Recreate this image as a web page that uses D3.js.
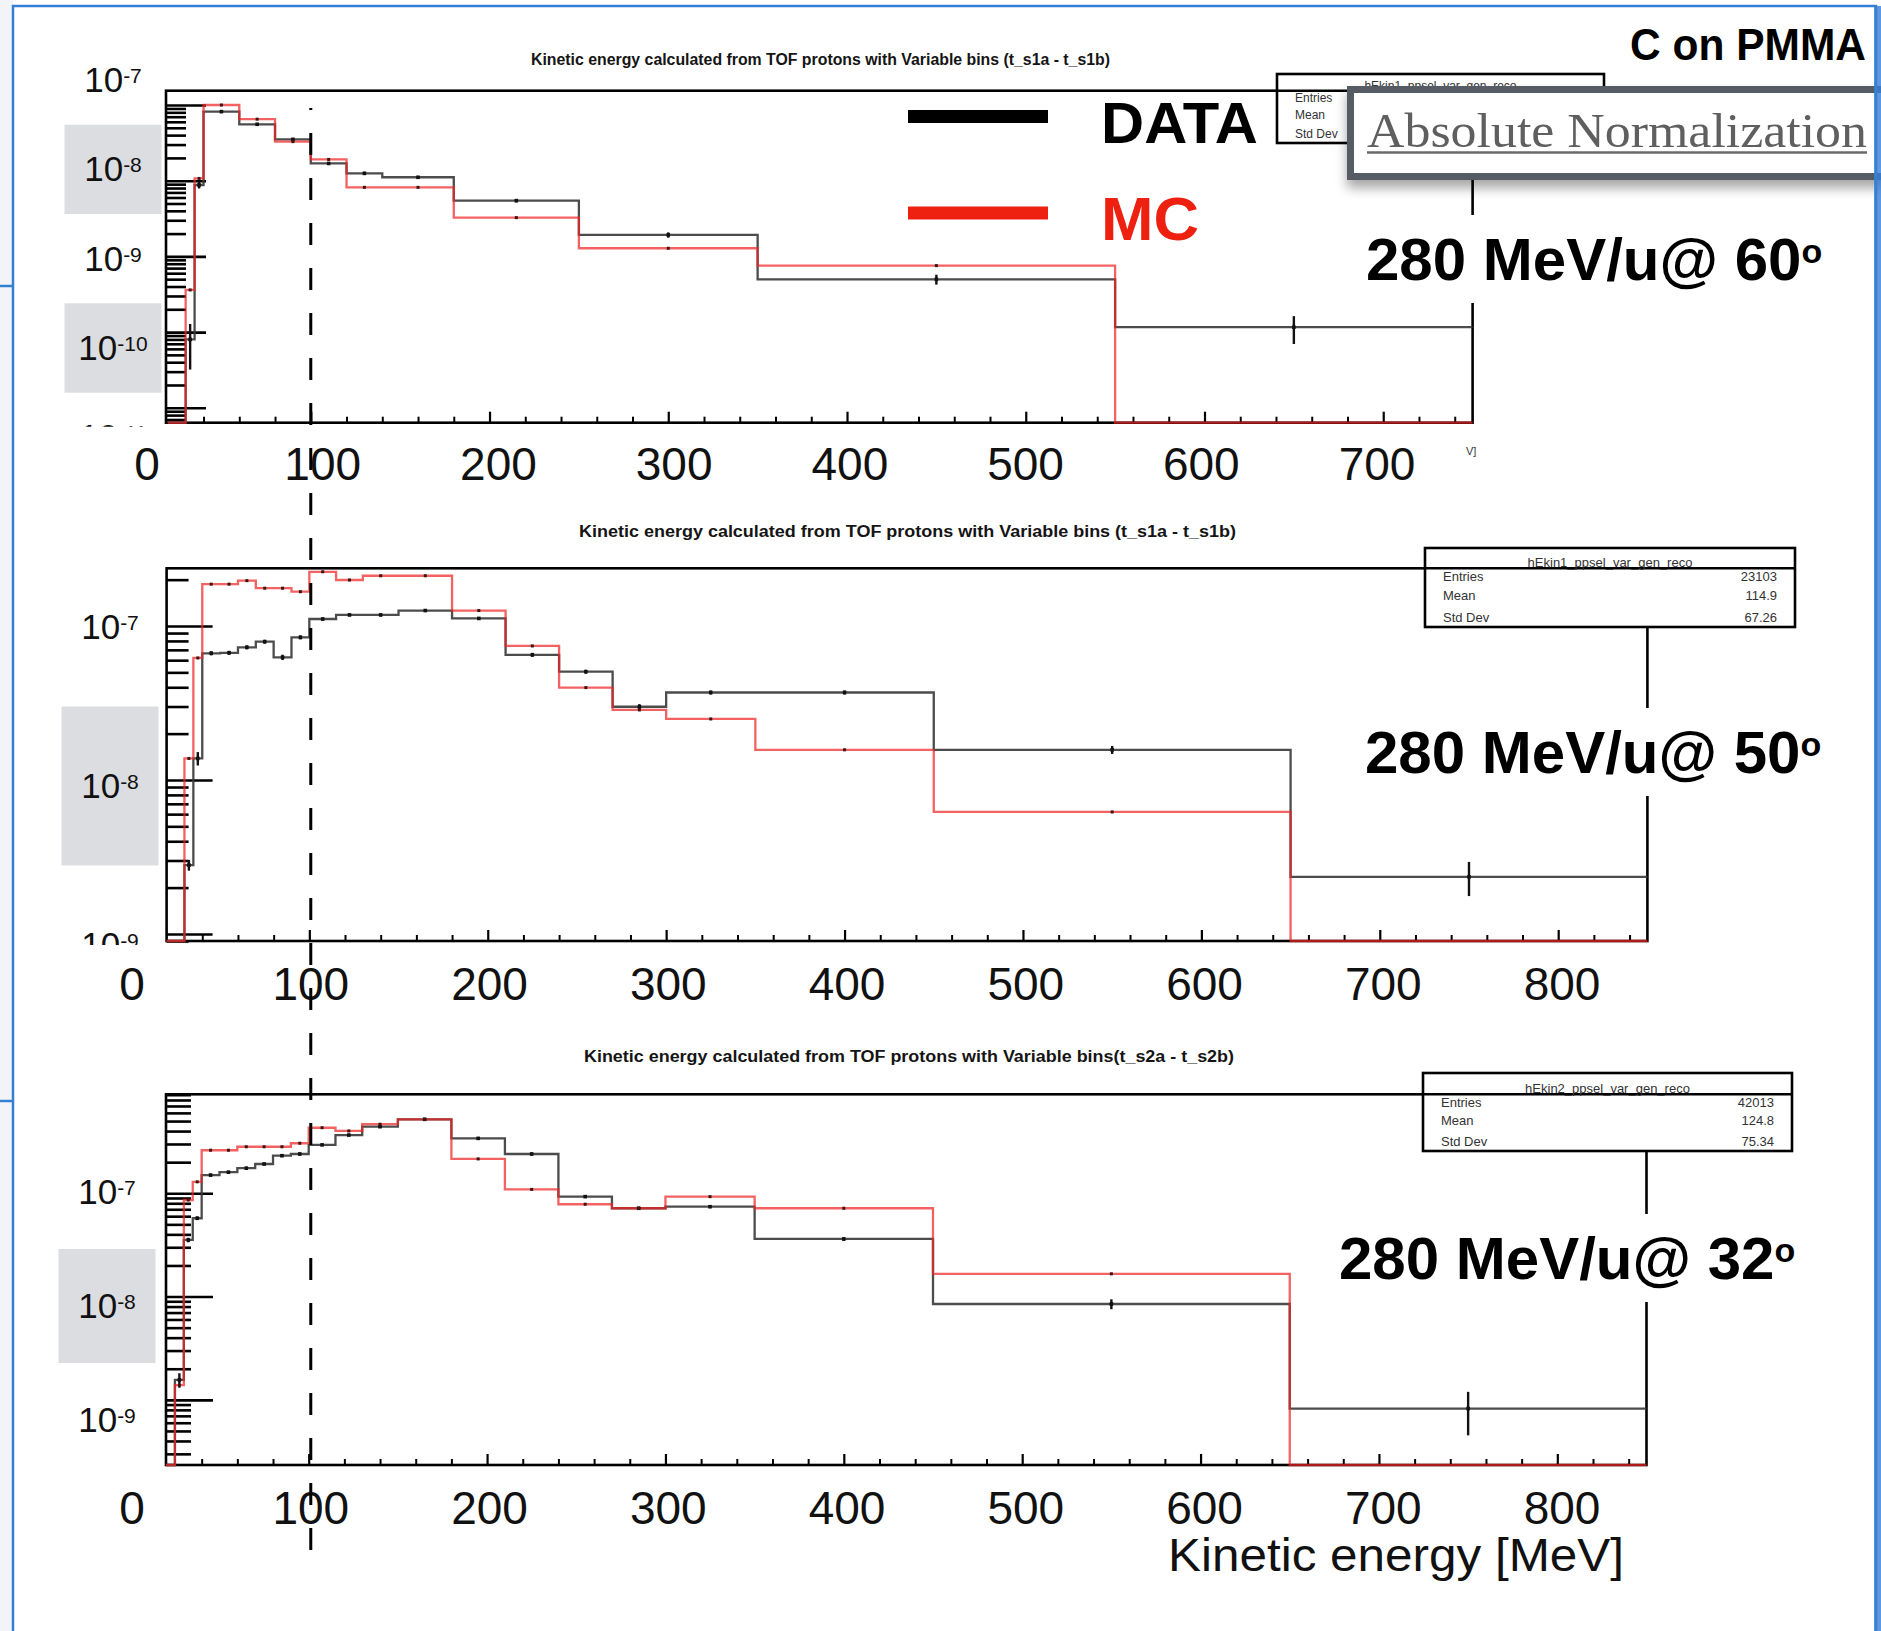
<!DOCTYPE html>
<html>
<head>
<meta charset="utf-8">
<script src="https://cdn.jsdelivr.net/npm/d3@7"></script>
<style>
  body { margin: 0; background: #fff; overflow: hidden; }
  svg { display: block; }
  text { font-family: "Liberation Sans", Arial, sans-serif; }
</style>
</head>
<body>
<div id="chart"></div>
<script>
// ---- data (per bin, normalised yield) ----
var edgesA = [20,25,30,35,40,60,80,100,120,140,180,250,350,550,750];
var edgesB = [20,25,30,35,40,50,60,70,80,90,100,115,130,150,180,210,240,270,300,350,450,650,850];

// 280 MeV/u @ 60 deg
var data60 = [0,0,8e-11,8.77e-9,8.17e-8,5.56e-8,3.52e-8,1.69e-8,1.25e-8,1.11e-8,5.45e-9,1.92e-9,4.98e-10,1.16e-10];
var err60  = [0,0,0.6,0.1,0.02,0.03,0.04,0.04,0.05,0.04,0.05,0.08,0.15,0.4];
var mc60   = [0,0,3.6e-10,1.07e-8,1.0e-7,6.5e-8,3.28e-8,1.91e-8,8.17e-9,8.17e-9,3.25e-9,1.28e-9,7.55e-10,0];

// 280 MeV/u @ 50 deg
var data50 = [0,0,2.8e-9,1.38e-8,6.65e-8,6.7e-8,7.27e-8,7.91e-8,6.26e-8,8.44e-8,1.11e-7,1.18e-7,1.18e-7,1.26e-7,1.12e-7,6.5e-8,5.05e-8,2.99e-8,3.7e-8,3.7e-8,1.57e-8,2.35e-9];
var err50  = [0,0,0.08,0.1,0.03,0.03,0.03,0.03,0.04,0.03,0.02,0.02,0.02,0.02,0.02,0.03,0.03,0.04,0.03,0.03,0.06,0.25];
var mc50   = [0,0,1.38e-8,6.2e-8,1.87e-7,1.87e-7,1.97e-7,1.76e-7,1.76e-7,1.67e-7,2.25e-7,1.99e-7,2.12e-7,2.12e-7,1.26e-7,7.42e-8,3.98e-8,2.85e-8,2.49e-8,1.57e-8,6.2e-9,0];

// 280 MeV/u @ 32 deg
var data32 = [0,1.56e-9,3.53e-8,5.73e-8,1.5e-7,1.6e-7,1.75e-7,1.92e-7,2.31e-7,2.4e-7,2.94e-7,3.66e-7,4.41e-7,5.2e-7,3.4e-7,2.4e-7,9.27e-8,7.16e-8,7.41e-8,3.61e-8,8.47e-9,8.24e-10];
var err32  = [0,0.16,0.05,0.04,0.03,0.03,0.03,0.03,0.03,0.03,0.02,0.02,0.02,0.02,0.02,0.03,0.03,0.03,0.03,0.04,0.11,0.45];
var mc32   = [0,1.39e-9,8.61e-8,1.29e-7,2.61e-7,2.61e-7,2.82e-7,2.82e-7,2.82e-7,3.05e-7,4.31e-7,4.01e-7,4.66e-7,5.2e-7,2.15e-7,1.09e-7,7.83e-8,7.16e-8,9.27e-8,7.16e-8,1.66e-8,0];

// tick labels
var xLabels60 = [0,100,200,300,400,500,600,700];
var xLabels = [0,100,200,300,400,500,600,700,800];
var yExps60 = [-7,-8,-9,-10,-11];
var yExps50 = [-7,-8,-9];
var yExps32 = [-7,-8,-9];

// texts
var titles = [
  "Kinetic energy calculated from TOF protons with Variable bins (t_s1a - t_s1b)",
  "Kinetic energy calculated from TOF protons with Variable bins (t_s1a - t_s1b)",
  "Kinetic energy calculated from TOF protons with Variable bins(t_s2a - t_s2b)"
];
var angles = ["60", "50", "32"];
var statNames = ["hEkin1_ppsel_var_gen_reco", "hEkin1_ppsel_var_gen_reco", "hEkin2_ppsel_var_gen_reco"];
var statLabels = ["Entries", "Mean", "Std Dev"];
var statValues = [null, ["23103", "114.9", "67.26"], ["42013", "124.8", "75.34"]];
var legendNames = ["DATA", "MC"];
var legendColors = ["#000000", "#ee2010"];

// ---- layout ----
var W = 1881, H = 1631;
var panels = [
  { edges: edgesA, data: data60, err: err60, mc: mc60,
    xDom: [19, 750], xr: [166, 1472.6], yDom: [6.35e-12, 1.545e-7], yr: [422.7, 90.7],
    titleX: 531, titleW: 579, titleY: 65,
    xLabs: xLabels60, labX: [[0, 147], [700, 1377]], labBase: 480,
    yExps: yExps60, labY: [[1e-7, 92], [1e-10, 360]], labCx: 113,
    tick: [40, 20],
    stats: { x0: 1277, x1: 1604, y0: 74, y1: 143, fs: 12 },
    eX: 1366, eY: 280 },
  { edges: edgesB, data: data50, err: err50, mc: mc50,
    xDom: [20, 850], xr: [166.6, 1647.4], yDom: [9.0e-10, 2.37e-7], yr: [941, 568.3],
    titleX: 579, titleW: 657, titleY: 537,
    xLabs: xLabels, labX: [[0, 132], [800, 1562]], labBase: 1000,
    yExps: yExps50, labY: [[1e-7, 639], [1e-8, 798]], labCx: 110,
    tick: [46, 22],
    stats: { x0: 1425, x1: 1795, y0: 548, y1: 627, fs: 13 },
    eX: 1365, eY: 773 },
  { edges: edgesB, data: data32, err: err32, mc: mc32,
    xDom: [20, 850], xr: [166, 1646.5], yDom: [2.34e-10, 9.08e-7], yr: [1465, 1094.3],
    titleX: 584, titleW: 650, titleY: 1062,
    xLabs: xLabels, labX: [[0, 132], [800, 1562]], labBase: 1524,
    yExps: yExps32, labY: [[1e-7, 1204], [1e-9, 1432]], labCx: 107,
    tick: [47, 25],
    stats: { x0: 1423, x1: 1792, y0: 1073, y1: 1151, fs: 13 },
    eX: 1339, eY: 1279 }
];

var svg = d3.select("#chart").append("svg").attr("width", W).attr("height", H);
var defs = svg.append("defs");
defs.append("filter").attr("id", "shadow")
    .attr("x", "-10%").attr("y", "-30%").attr("width", "130%").attr("height", "180%")
  .append("feDropShadow")
    .attr("dx", 0).attr("dy", 8).attr("stdDeviation", 6)
    .attr("flood-color", "#000").attr("flood-opacity", 0.35);

svg.append("rect").attr("width", W).attr("height", H).attr("fill", "#fff");
svg.append("rect").attr("x", 0).attr("y", 0).attr("width", 13).attr("height", H).attr("fill", "#f2f4f7");

var xScale100 = null;

panels.forEach(function(p, pi) {
  var g = svg.append("g");
  var x = d3.scaleLinear().domain(p.xDom).range(p.xr);
  var y = d3.scaleLog().domain(p.yDom).range(p.yr).clamp(true);
  var yv = function(v) { return v > 0 ? y(v) : p.yr[0]; };
  if (pi === 0) xScale100 = x(100);

  // overlay label scales (the slide's pasted labels do not sit exactly on the ROOT ticks)
  var lx = d3.scaleLinear().domain([p.labX[0][0], p.labX[1][0]]).range([p.labX[0][1], p.labX[1][1]]);
  var ly = d3.scaleLog().domain([p.labY[0][0], p.labY[1][0]]).range([p.labY[0][1], p.labY[1][1]]);

  // title
  g.append("text")
    .attr("x", p.titleX).attr("y", p.titleY)
    .attr("textLength", p.titleW).attr("lengthAdjust", "spacingAndGlyphs")
    .style("font-size", "16px").style("font-weight", "bold").attr("fill", "#151515")
    .text(titles[pi]);

  // y labels (clipped under the axis)
  defs.append("clipPath").attr("id", "clipL" + pi)
    .append("rect").attr("x", 0).attr("y", 0).attr("width", 220).attr("height", p.yr[0] + 4);
  var lab = g.append("g").attr("clip-path", "url(#clipL" + pi + ")");
  p.yExps.filter(function(e) { return e % 2 === 0; }).forEach(function(e) {
    var y0 = ly(Math.pow(10, e + 0.5)) - 12, y1 = ly(Math.pow(10, e - 0.5)) - 12;
    lab.append("rect")
      .attr("x", p.labCx - 48.5).attr("y", y0).attr("width", 97).attr("height", y1 - y0)
      .attr("fill", "#dcdde1");
  });
  p.yExps.forEach(function(e) {
    var t = lab.append("text")
      .attr("x", p.labCx).attr("y", ly(Math.pow(10, e)))
      .attr("text-anchor", "middle").style("font-size", "35px").attr("fill", "#111");
    t.append("tspan").text("10");
    t.append("tspan").attr("dy", -9).style("font-size", "21px").text(e);
  });

  // x labels
  g.selectAll(".xl").data(p.xLabs).enter().append("text")
    .attr("x", function(d) { return lx(d); }).attr("y", p.labBase)
    .attr("text-anchor", "middle").style("font-size", "46px").attr("fill", "#111")
    .text(function(d) { return d; });

  // ROOT-like axes: ticks inside the frame
  var yMaj = [], yMin = [];
  for (var d = Math.floor(Math.log10(p.yDom[0])); d <= Math.ceil(Math.log10(p.yDom[1])); d++) {
    for (var k = 1; k <= 9; k++) {
      var v = k * Math.pow(10, d);
      if (v >= p.yDom[0] && v <= p.yDom[1]) (k === 1 ? yMaj : yMin).push(v);
    }
  }
  var xMaj = d3.range(100, p.xDom[1] + 1, 100);
  var xMin = d3.range(40, p.xDom[1] + 1, 20).filter(function(v) { return v % 100 !== 0; });

  function addAxis(axis, tr, w) {
    var a = g.append("g").attr("transform", tr).call(axis);
    a.select(".domain").remove();
    a.selectAll("line").attr("stroke", "#000").attr("stroke-width", w);
  }
  addAxis(d3.axisRight(y).tickValues(yMaj).tickSize(p.tick[0]).tickFormat(""), "translate(" + p.xr[0] + ",0)", 2.6);
  addAxis(d3.axisRight(y).tickValues(yMin).tickSize(p.tick[1]).tickFormat(""), "translate(" + p.xr[0] + ",0)", 2.6);
  addAxis(d3.axisTop(x).tickValues(xMaj).tickSize(11).tickFormat(""), "translate(0," + p.yr[0] + ")", 2.2);
  addAxis(d3.axisTop(x).tickValues(xMin).tickSize(6).tickFormat(""), "translate(0," + p.yr[0] + ")", 2);

  // frame
  g.append("rect")
    .attr("x", p.xr[0]).attr("y", p.yr[1])
    .attr("width", p.xr[1] - p.xr[0]).attr("height", p.yr[0] - p.yr[1])
    .attr("fill", "none").attr("stroke", "#000").attr("stroke-width", 2.6);

  // histograms
  function stepPts(vals) {
    var pts = [];
    vals.forEach(function(v, i) {
      pts.push([x(p.edges[i]), yv(v)], [x(p.edges[i + 1]), yv(v)]);
    });
    return pts;
  }
  var line = d3.line();
  g.append("path").attr("d", line(stepPts(p.data)))
    .attr("fill", "none").attr("stroke", "#383838").attr("stroke-width", 2.3).attr("opacity", 0.9);
  g.append("path").attr("d", line(stepPts(p.mc)))
    .attr("fill", "none").attr("stroke", "#f02424").attr("stroke-width", 2.3).attr("opacity", 0.72);

  // error bars and markers
  var centers = p.data.map(function(v, i) { return (p.edges[i] + p.edges[i + 1]) / 2; });
  p.data.forEach(function(v, i) {
    if (!(v > 0)) return;
    var e = p.err[i];
    g.append("line")
      .attr("x1", x(centers[i])).attr("x2", x(centers[i]))
      .attr("y1", y(v * (1 + e))).attr("y2", y(v * Math.max(1 - e, 0.05)))
      .attr("stroke", "#111").attr("stroke-width", 2.4);
    g.append("rect").attr("x", x(centers[i]) - 1.8).attr("y", y(v) - 1.8)
      .attr("width", 3.6).attr("height", 3.6).attr("fill", "#111");
  });
  p.mc.forEach(function(v, i) {
    if (!(v > 0)) return;
    g.append("rect").attr("x", x(centers[i]) - 1.5).attr("y", y(v) - 1.5)
      .attr("width", 3).attr("height", 3).attr("fill", "#3a1414");
  });

  // energy / angle label on white background
  g.append("rect").attr("x", p.eX - 10).attr("y", p.eY - 65).attr("width", 480).attr("height", 88).attr("fill", "#fff");
  var et = g.append("text").attr("x", p.eX).attr("y", p.eY)
    .style("font-size", "60px").style("font-weight", "bold").attr("fill", "#000");
  et.append("tspan").text("280 MeV/u@ " + angles[pi]);
  et.append("tspan").attr("dy", -17).style("font-size", "34px").text("o");

  // stats box
  var s = p.stats;
  var sg = g.append("g");
  sg.append("rect").attr("x", s.x0).attr("y", s.y0).attr("width", s.x1 - s.x0).attr("height", s.y1 - s.y0)
    .attr("fill", "#fff").attr("stroke", "#000").attr("stroke-width", 2.6);
  sg.append("line").attr("x1", s.x0).attr("x2", s.x1).attr("y1", p.yr[1]).attr("y2", p.yr[1])
    .attr("stroke", "#000").attr("stroke-width", 2.6);
  sg.append("text").attr("x", (s.x0 + s.x1) / 2).attr("y", p.yr[1] - 1).attr("text-anchor", "middle")
    .style("font-size", s.fs + "px").attr("fill", "#333").text(statNames[pi]);
  var fr = [0.22, 0.54, 0.91];
  statLabels.forEach(function(l, j) {
    var by = p.yr[1] + fr[j] * (s.y1 - p.yr[1]);
    sg.append("text").attr("x", s.x0 + 18).attr("y", by)
      .style("font-size", s.fs + "px").attr("fill", "#333").text(l);
    if (statValues[pi]) {
      sg.append("text").attr("x", s.x1 - 18).attr("y", by).attr("text-anchor", "end")
        .style("font-size", s.fs + "px").attr("fill", "#333").text(statValues[pi][j]);
    }
  });
});

// leftover of the hidden ROOT axis title in the top pad
svg.append("text").attr("x", 1466).attr("y", 455).style("font-size", "11px").attr("fill", "#333").text("V]");

// dashed 100 MeV marker through all pads
svg.append("line")
  .attr("x1", xScale100).attr("x2", xScale100).attr("y1", 108).attr("y2", 1562)
  .attr("stroke", "#000").attr("stroke-width", 3)
  .attr("stroke-dasharray", "22,23").attr("stroke-dashoffset", 20);

// legend
legendNames.forEach(function(n, i) {
  var cy = [116.5, 213][i];
  svg.append("rect").attr("x", 908).attr("y", cy - 6.5).attr("width", 140).attr("height", 13).attr("fill", legendColors[i]);
  svg.append("text").attr("x", 1101).attr("y", [143, 240][i])
    .attr("textLength", [157, 98][i]).attr("lengthAdjust", "spacingAndGlyphs")
    .style("font-size", [58, 62][i] + "px").style("font-weight", "bold").attr("fill", legendColors[i]).text(n);
});

// top right title
svg.append("text").attr("x", 1630).attr("y", 60)
  .attr("textLength", 236).attr("lengthAdjust", "spacingAndGlyphs")
  .style("font-size", "44px").style("font-weight", "bold").attr("fill", "#000").text("C on PMMA");

// absolute normalization box
var ab = svg.append("g");
ab.append("rect").attr("x", 1350.5).attr("y", 89.5).attr("width", 540).attr("height", 87)
  .attr("fill", "#fff").attr("stroke", "#565c64").attr("stroke-width", 7).attr("filter", "url(#shadow)");
ab.append("text").attr("x", 1367).attr("y", 147)
  .attr("textLength", 500).attr("lengthAdjust", "spacingAndGlyphs")
  .style("font-family", "'Liberation Serif', 'Times New Roman', serif").style("font-size", "48px")
  .attr("fill", "#5f5f5f").text("Absolute Normalization");
ab.append("line").attr("x1", 1367).attr("x2", 1867).attr("y1", 152.5).attr("y2", 152.5)
  .attr("stroke", "#6a6a6a").attr("stroke-width", 2.5);

// x axis title
svg.append("text").attr("x", 1168).attr("y", 1571)
  .attr("textLength", 456).attr("lengthAdjust", "spacingAndGlyphs")
  .style("font-size", "46px").attr("fill", "#111").text("Kinetic energy [MeV]");

// slide border
var blue = "#3580d4";
svg.append("path").attr("d", "M13,1631 L13,6 L1876,6 L1876,1631")
  .attr("fill", "none").attr("stroke", blue).attr("stroke-width", 2.5);
svg.append("rect").attr("x", 1874).attr("y", 6).attr("width", 7).attr("height", H - 6).attr("fill", blue).attr("opacity", 0.8);
[286, 1101].forEach(function(yy) {
  svg.append("line").attr("x1", 0).attr("x2", 13).attr("y1", yy).attr("y2", yy)
    .attr("stroke", blue).attr("stroke-width", 2.5);
});
</script>
</body>
</html>
